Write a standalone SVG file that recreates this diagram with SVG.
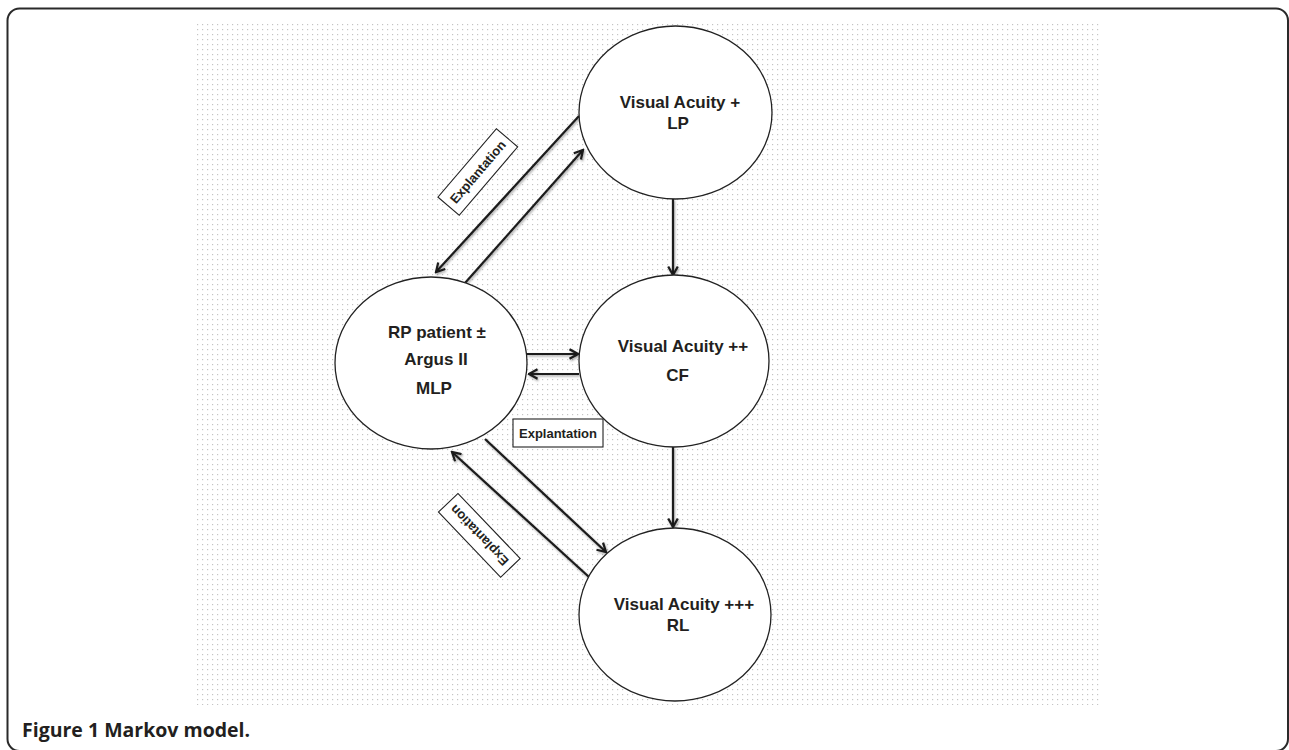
<svg xmlns="http://www.w3.org/2000/svg" width="1289" height="750" viewBox="0 0 1289 750">
<defs>
<pattern id="dots" x="197" y="24" width="5" height="5" patternUnits="userSpaceOnUse">
<rect x="0" y="0" width="1.2" height="1.2" fill="#c4c4c4"/>
</pattern>
<marker id="arr" viewBox="0 0 12 12" refX="10.5" refY="6" markerWidth="12" markerHeight="12" markerUnits="userSpaceOnUse" orient="auto">
<path d="M2,1.2 L10.5,6 L2,10.8" fill="none" stroke="#1a1a1a" stroke-width="2.2" stroke-linejoin="miter"/>
</marker>
<filter id="sh" x="-10%" y="-10%" width="120%" height="120%">
<feDropShadow dx="1" dy="1.5" stdDeviation="1" flood-color="#000" flood-opacity="0.35"/>
</filter>
</defs>
<style>
.node{fill:#fff;stroke:#222;stroke-width:1.3}
.lbl{font-family:"Liberation Sans",Arial,sans-serif;font-weight:bold;font-size:17px;fill:#231f20;text-anchor:middle}
.conn{stroke:#1a1a1a;stroke-width:2.2;fill:none;marker-end:url(#arr)}
.box{fill:#fff;stroke:#222;stroke-width:1.1}
.btxt{font-family:"Liberation Sans",Arial,sans-serif;font-weight:bold;font-size:13px;fill:#231f20;text-anchor:middle}
.cap{font-family:"Open Sans","Noto Sans",sans-serif;font-weight:bold;font-size:19.5px;fill:#231f20}
</style>
<rect x="0" y="0" width="1289" height="750" fill="#fff"/>
<rect x="7.5" y="8.5" width="1280.5" height="742.5" rx="12" ry="12" fill="none" stroke="#2a2a2a" stroke-width="2"/>
<rect x="197" y="24" width="905" height="681" fill="url(#dots)"/>

<g id="connectors" filter="url(#sh)">
<line class="conn" x1="579" y1="116" x2="436" y2="272"/>
<line class="conn" x1="465" y1="283" x2="583" y2="150"/>
<line class="conn" x1="673" y1="199" x2="673" y2="275"/>
<line class="conn" x1="527" y1="354" x2="578" y2="354"/>
<line class="conn" x1="579" y1="374" x2="529" y2="374"/>
<line class="conn" x1="673" y1="447" x2="673" y2="527"/>
<line class="conn" x1="485" y1="439" x2="606" y2="552"/>
<line class="conn" x1="589" y1="577" x2="452" y2="452"/>
</g>

<g id="node-lp">
<ellipse class="node" cx="675.5" cy="112.5" rx="96.5" ry="86.5"/>
<text class="lbl" x="680" y="108">Visual Acuity +</text>
<text class="lbl" x="678" y="129">LP</text>
</g>
<g id="node-rp">
<ellipse class="node" cx="431" cy="363" rx="96" ry="86"/>
<text class="lbl" x="437" y="338">RP patient ±</text>
<text class="lbl" x="436" y="365">Argus II</text>
<text class="lbl" x="434" y="394">MLP</text>
</g>
<g id="node-cf">
<ellipse class="node" cx="674" cy="361" rx="95" ry="86"/>
<text class="lbl" x="683" y="352">Visual Acuity ++</text>
<text class="lbl" x="677.5" y="381">CF</text>
</g>
<g id="node-rl">
<ellipse class="node" cx="675" cy="614.5" rx="96" ry="86.5"/>
<text class="lbl" x="684" y="610">Visual Acuity +++</text>
<text class="lbl" x="678" y="631">RL</text>
</g>

<g id="label-explant-top" transform="translate(477.8,172) rotate(-49.5)">
<rect class="box" x="-45" y="-14" width="90" height="28"/>
<text class="btxt" x="0" y="4.5" font-size="12.5px">Explantation</text>
</g>
<g id="label-explant-mid">
<rect class="box" x="513" y="419" width="90" height="28"/>
<text class="btxt" x="558" y="437.5">Explantation</text>
</g>
<g id="label-explant-bottom" transform="translate(479.3,535.3) rotate(-133.7)">
<rect class="box" x="-45" y="-13.5" width="90" height="27"/>
<text class="btxt" x="0" y="4.5" font-size="12.5px">Explantation</text>
</g>

<text class="cap" x="22" y="737">Figure 1 Markov model.</text>
</svg>
